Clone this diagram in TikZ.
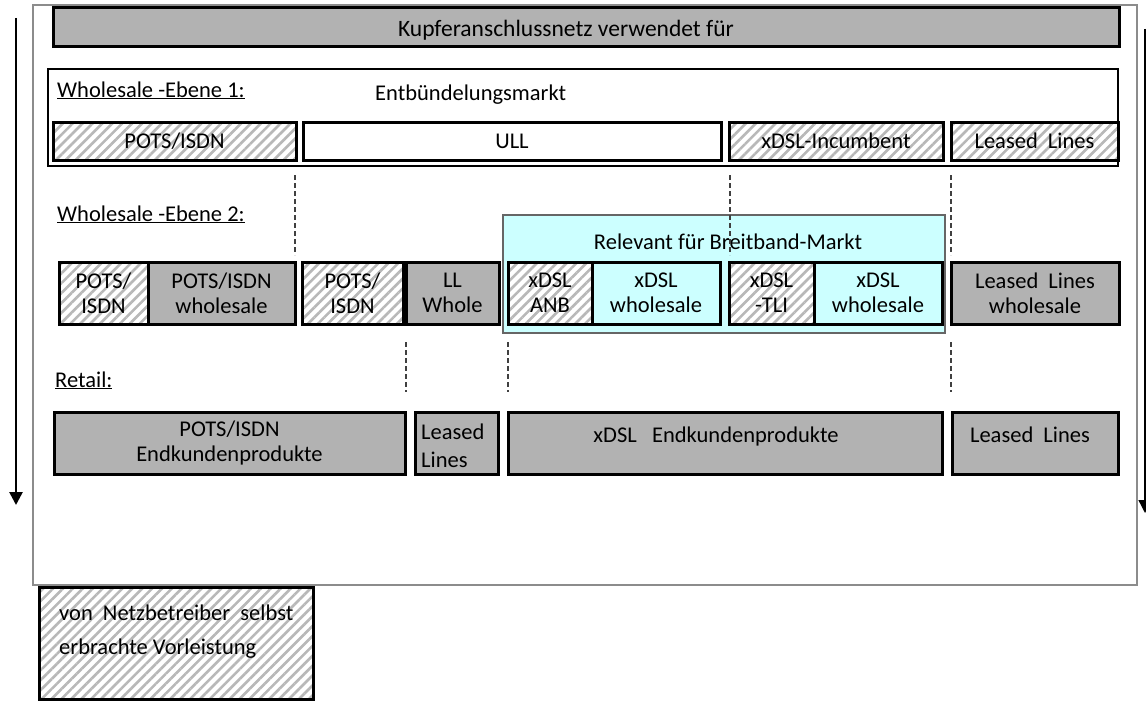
\documentclass[tikz,border=0pt]{standalone}
\usepackage{fontspec}
\setmainfont{Carlito}
\usetikzlibrary{patterns.meta,arrows.meta}

\definecolor{breitcyan}{HTML}{CCFFFF}
\definecolor{hatchgrey}{HTML}{B8B8B8}

\tikzset{
  boxfont/.style={font=\fontsize{22.5}{25}\selectfont},
  cell/.style={draw=black, line width=3pt, inner sep=0pt, align=center, boxfont, minimum height=62},
  greycell/.style={cell, fill=black!30},
  whitecell/.style={cell, fill=white},
  cyancell/.style={cell, fill=breitcyan},
  hatchcell/.style={cell, preaction={fill=white},
    pattern={Lines[angle=45,distance=7pt,line width=2.6pt]}, pattern color=hatchgrey},
  txt/.style={inner sep=0pt, boxfont},
  sepline/.style={draw=black!75, line width=1.1pt, dash pattern=on 5pt off 3pt},
  downarrow/.style={-{Triangle[length=13pt,width=13pt]}, line width=2.6pt},
}

\begin{document}
\begin{tikzpicture}[x=1pt, y=-1pt]
    \useasboundingbox (0,0) rectangle (1146,701);

    % outer frame
    \draw[black!45, line width=1.5pt] (33,5) rectangle (1137,585);

    % direction arrows
    \coordinate (topL) at (16,18);
    \coordinate (endL) at (16,505);
    \draw[downarrow] (topL) -- (endL);
    \coordinate (topR) at (1145,29);
    \coordinate (endR) at (1145,513);
    \draw[downarrow, line width=1.4pt] (topR) -- (endR);

    % copper network bar
    \node[greycell, minimum width=1066, minimum height=39] (kupfer) at (586,27) {};
    \node[txt, anchor=base, font=\fontsize{23.5}{26}\selectfont] (kupfertxt) at (566,37) {Kupferanschlussnetz verwendet für};

    % Wholesale level 1 (unbundling)
    \node[draw, line width=1.3pt, inner sep=0pt, minimum width=1070, minimum height=97] (ebene1) at (583,117.5) {};
    \node[txt, anchor=base west] (ebene1lbl) at (57,97) {\underline{Wholesale -Ebene 1:}};
    \node[txt, anchor=base west] (entb) at (375,100) {Entbündelungsmarkt};
    \node[hatchcell, minimum width=243, minimum height=38] (potsA) at (174.5,141) {POTS/ISDN};
    \node[whitecell, minimum width=418, minimum height=38] (ull) at (512,141) {ULL};
    \node[hatchcell, minimum width=214, minimum height=38] (incumb) at (836,141) {xDSL-Incumbent};
    \node[hatchcell, minimum width=167, minimum height=38] (llA) at (1034.5,141) {Leased~~Lines};

    % Wholesale level 2
    \node[txt, anchor=base west] (ebene2lbl) at (57,221) {\underline{Wholesale -Ebene 2:}};
    \node[cyancell, draw=black!60, line width=1.2pt, minimum width=442, minimum height=118] (breit) at (724,274) {};
    \node[txt, anchor=base] (breittxt) at (728,249) {Relevant für Breitband-Markt};

    % separators between the levels
    \foreach \xx [count=\i] in {295,730,951} {
        \coordinate (upA\i) at (\xx,175);
        \coordinate (upB\i) at (\xx,255);
        \draw[sepline] (upA\i) -- (upB\i);
    }
    \foreach \xx [count=\i] in {406,508,951} {
        \coordinate (loA\i) at (\xx,342);
        \coordinate (loB\i) at (\xx,392);
        \draw[sepline] (loA\i) -- (loB\i);
    }

    \node[hatchcell, minimum width=89] (potsB) at (103.5,293) {POTS/\\ISDN};
    \node[greycell, minimum width=147] (potswh) at (221.5,293) {POTS/ISDN\\wholesale};
    \node[hatchcell, minimum width=101] (potsC) at (352.5,293) {POTS/\\ISDN};
    \node[greycell, minimum width=93] (llwhole) at (452.5,293) {LL\\Whole};
    \node[hatchcell, minimum width=84] (anb) at (550,293) {xDSL\\ANB};
    \node[cyancell, minimum width=128] (anbwh) at (656,293) {xDSL\\wholesale};
    \node[hatchcell, minimum width=85] (tli) at (771.5,293) {xDSL\\-TLI};
    \node[cyancell, minimum width=128] (tliwh) at (878,293) {xDSL\\wholesale};
    \node[greycell, minimum width=168] (llwh) at (1035,293) {Leased~~Lines\\wholesale};

    % Retail
    \node[txt, anchor=base west] (retaillbl) at (55,387) {\underline{Retail:}};
    \node[greycell, minimum width=351] (potsret) at (229.5,443) {POTS/ISDN\\Endkundenprodukte};
    \node[greycell, minimum width=83] (llret) at (456.5,443) {};
    \node[txt, anchor=west, align=left, font=\fontsize{22.5}{28}\selectfont] (llrettxt) at (421,446) {Leased\\Lines};
    \node[greycell, minimum width=434] (xdslret) at (725,443) {};
    \node[txt, anchor=base] (xdslrettxt) at (716,442) {xDSL~~~Endkundenprodukte};
    \node[greycell, minimum width=166] (llret2) at (1035,443) {};
    \node[txt, anchor=base] (llret2txt) at (1030,442) {Leased~~Lines};

    % legend
    \node[hatchcell, minimum width=274, minimum height=112] (legend) at (176,643) {};
    \node[txt, anchor=west, align=left, font=\fontsize{22.5}{34}\selectfont] (legendtxt) at (59,632) {von~~Netzbetreiber~~selbst\\erbrachte Vorleistung};
\end{tikzpicture}
\end{document}
